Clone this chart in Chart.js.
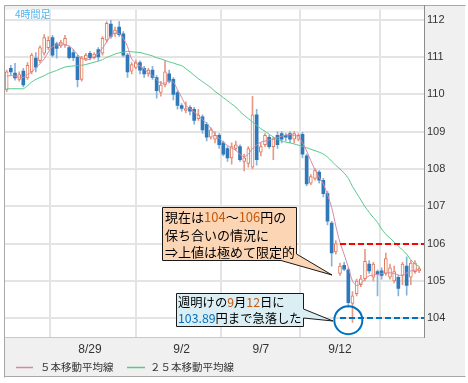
<!DOCTYPE html>
<html><head><meta charset="utf-8">
<script src="https://cdn.jsdelivr.net/npm/chart.js@4/dist/chart.umd.min.js"></script>
<style>html,body{margin:0;padding:0;background:#fff;}canvas{display:block;}</style>
</head><body>
<canvas id="c" width="468" height="383"></canvas>
<script>
// ---- data (4-hour candles) ----
const tickPositions = [1, 20, 42, 61, 80];
const tickLabels = ['', '8/29', '9/2', '9/7', '9/12'];
const yTickValues = [104, 105, 106, 107, 108, 109, 110, 111, 112];
const seriesNames = ['５本移動平均線', '２５本移動平均線'];

const openP = [110.12,110.70,110.57,110.40,110.62,110.44,110.60,110.97,110.90,111.10,
111.25,111.52,111.35,111.30,111.32,111.25,111.12,111.00,110.40,110.95,
111.10,110.98,111.20,111.10,111.45,111.88,111.62,111.80,111.62,111.05,
110.62,110.72,110.85,110.70,110.55,110.65,110.45,110.05,110.25,110.55,
110.40,110.05,109.70,109.57,109.65,109.60,109.35,109.40,109.20,108.85,
108.80,108.90,108.70,108.55,108.30,108.55,108.60,108.20,108.15,108.05,
109.45,108.45,108.65,108.85,108.60,108.90,108.95,108.90,108.95,108.80,
108.80,108.93,108.35,107.62,107.75,107.92,107.70,107.34,106.55,105.78,
105.20,105.42,105.30,104.40,104.66,104.90,105.06,105.45,105.10,105.25,
105.27,105.20,105.10,105.00,105.10,105.15,105.40,105.10,105.25,105.27];
const highP = [110.65,110.78,110.83,110.60,110.70,110.85,111.10,111.12,111.30,111.60,
111.55,111.58,111.40,111.45,111.58,111.30,111.20,111.05,111.02,111.10,
111.15,111.12,111.25,111.55,111.95,111.98,111.80,111.95,111.68,111.10,
110.85,110.92,110.90,110.75,110.70,110.75,110.50,110.35,110.90,110.65,
110.45,110.10,109.75,109.80,109.70,109.65,109.60,109.45,109.25,109.10,
109.00,108.95,108.75,108.60,108.70,108.75,108.65,108.40,108.60,109.95,
109.60,108.70,108.95,108.90,108.85,109.00,109.00,108.95,109.00,109.00,
108.95,108.98,108.40,107.85,108.02,107.96,107.75,107.40,106.60,106.08,
105.48,105.50,105.35,104.72,105.05,105.15,105.85,105.55,105.50,105.30,
105.35,105.75,105.45,105.40,105.15,105.50,105.65,105.55,105.55,105.38];
const lowP = [110.07,110.52,110.38,110.35,110.20,110.40,110.55,110.60,110.85,111.05,
111.20,111.00,110.97,111.25,111.26,110.95,110.90,110.20,110.35,110.90,
110.92,110.95,110.90,111.05,111.40,111.50,111.55,111.55,111.00,110.45,
110.55,110.68,110.55,110.45,110.48,110.40,109.90,109.95,110.20,110.30,
109.85,109.60,109.55,109.50,109.45,109.20,109.30,108.95,108.75,108.80,
108.70,108.55,108.35,108.20,108.13,108.50,108.20,107.95,108.05,108.00,
108.10,108.35,108.60,108.55,108.25,108.55,108.70,108.75,108.70,108.70,
108.75,108.30,107.55,107.58,107.70,107.62,107.25,106.50,105.40,105.72,
105.15,105.28,104.30,103.89,104.60,104.85,105.00,105.20,105.00,104.60,
105.05,105.15,105.05,104.95,104.60,104.90,104.62,104.90,105.20,105.22];
const closeP = [110.60,110.60,110.44,110.53,110.25,110.78,111.05,110.73,111.25,111.52,
111.45,111.05,111.23,111.40,111.50,110.98,110.98,110.39,110.97,111.05,
110.98,111.08,111.00,111.50,111.90,111.55,111.72,111.60,111.05,110.60,
110.80,110.85,110.65,110.55,110.65,110.45,110.10,110.25,110.60,110.35,
110.00,109.70,109.62,109.62,109.55,109.30,109.45,109.05,108.85,109.05,
108.90,108.65,108.40,108.30,108.60,108.65,108.25,108.30,108.55,109.45,
108.25,108.60,108.90,108.60,108.80,108.65,108.80,108.85,108.80,108.95,
108.90,108.40,107.60,107.80,107.97,107.70,107.34,106.60,105.75,106.00,
105.40,105.32,104.42,104.60,105.00,105.06,105.53,105.27,105.45,105.18,
105.15,105.60,105.35,105.25,104.80,105.45,104.88,105.48,105.48,105.33];
const ma5 = [110.49,110.50,110.49,110.46,110.45,110.53,110.60,110.71,110.82,110.95,
111.13,111.28,111.32,111.35,111.33,111.29,111.20,111.07,110.97,110.92,
110.95,111.01,111.09,111.24,111.40,111.57,111.64,111.63,111.50,111.28,
110.95,110.83,110.76,110.68,110.58,110.50,110.40,110.30,110.30,110.36,
110.33,110.12,109.92,109.70,109.62,109.53,109.43,109.33,109.22,109.09,
108.93,108.82,108.71,108.63,108.56,108.50,108.39,108.33,108.40,108.55,
108.64,108.72,108.75,108.78,108.81,108.84,108.88,108.91,108.92,108.90,
108.87,108.70,108.48,108.22,107.98,107.78,107.60,107.31,106.97,106.47,
106.03,105.71,105.37,105.00,104.88,104.93,105.05,105.14,105.16,105.18,
105.20,105.21,105.22,105.20,105.16,105.15,105.21,105.27,105.29,105.31];
const ma25 = [110.15,110.15,110.15,110.15,110.15,110.23,110.33,110.40,110.45,110.50,
110.56,110.60,110.64,110.69,110.73,110.75,110.76,110.77,110.78,110.80,
110.83,110.86,110.89,110.93,110.99,111.03,111.08,111.11,111.13,111.15,
111.14,111.13,111.12,111.09,111.06,111.03,110.98,110.95,110.91,110.87,
110.84,110.80,110.77,110.69,110.60,110.51,110.42,110.34,110.26,110.18,
110.08,110.00,109.91,109.83,109.74,109.66,109.54,109.44,109.35,109.26,
109.17,109.08,109.01,108.93,108.86,108.79,108.75,108.72,108.70,108.67,
108.64,108.60,108.57,108.53,108.49,108.45,108.40,108.32,108.21,108.10,
108.00,107.89,107.75,107.53,107.35,107.17,106.99,106.84,106.70,106.57,
106.39,106.25,106.15,106.04,105.94,105.83,105.72,105.57,105.46,105.39];

const resistanceLevel = 106;
const supportLevel = 104;
const lowIndex = 82;

// ---- styles ----
const BLUE = '#2f78b9', BLUE_WICK = '#86b3da', RED = '#e2785c', RED_WICK = '#e99a84';
const PINK = '#d48aa6', GREEN = '#55c98b';
const CJK = '"Noto Sans CJK JP", "Noto Sans", sans-serif';

const idx = openP.map((_, i) => i);
const isUp = i => closeP[i] >= openP[i];

const bgPlugin = {
  id: 'bg',
  beforeDraw(chart) {
    const { ctx, chartArea: a } = chart;
    ctx.save();
    ctx.fillStyle = '#ffffff'; ctx.fillRect(0, 0, chart.width, chart.height);
    ctx.fillStyle = '#f0f0f0'; ctx.fillRect(4, 5, 461, 372);
    ctx.fillStyle = '#ffffff'; ctx.fillRect(a.left, a.top, a.right - a.left, a.bottom - a.top);
    ctx.restore();
  }
};

function drawRuns(ctx, x, y, parts) {
  let cx = x;
  for (const [t, c] of parts) { ctx.fillStyle = c; ctx.fillText(t, cx, y); cx += ctx.measureText(t).width; }
}

const annotPlugin = {
  id: 'annot',
  afterDatasetsDraw(chart) {
    const { ctx, chartArea: a, scales } = chart;
    const xs = scales.x, ys = scales.y;
    ctx.save();
    // level lines
    const x0 = xs.getPixelForValue(tickPositions[4]);
    ctx.lineWidth = 2; ctx.setLineDash([6, 3]);
    ctx.strokeStyle = '#ff0000';
    let yy = Math.round(ys.getPixelForValue(resistanceLevel));
    ctx.beginPath(); ctx.moveTo(x0, yy); ctx.lineTo(a.right, yy); ctx.stroke();
    ctx.strokeStyle = '#0070c0';
    yy = Math.round(ys.getPixelForValue(supportLevel));
    ctx.beginPath(); ctx.moveTo(x0, yy); ctx.lineTo(a.right, yy); ctx.stroke();
    ctx.setLineDash([]);
    // circle around the low
    ctx.strokeStyle = '#0070c0'; ctx.lineWidth = 2;
    ctx.beginPath();
    ctx.arc(xs.getPixelForValue(lowIndex), ys.getPixelForValue(103.95), 14, 0, Math.PI * 2);
    ctx.stroke();

    ctx.lineWidth = 1; ctx.strokeStyle = '#1a1a1a';
    // callout 1
    ctx.beginPath();
    ctx.moveTo(162.5, 207.5); ctx.lineTo(296.5, 207.5); ctx.lineTo(296.5, 254);
    ctx.lineTo(332, 275); ctx.lineTo(281, 260.5); ctx.lineTo(162.5, 260.5); ctx.closePath();
    ctx.fillStyle = '#fcd5b4'; ctx.fill(); ctx.stroke();
    // callout 2
    ctx.beginPath();
    ctx.moveTo(176.5, 293.5); ctx.lineTo(303.5, 293.5); ctx.lineTo(303.5, 309);
    ctx.lineTo(333, 321); ctx.lineTo(303.5, 318); ctx.lineTo(303.5, 326.5);
    ctx.lineTo(176.5, 326.5); ctx.closePath();
    ctx.fillStyle = '#daeef3'; ctx.fill(); ctx.stroke();

    ctx.textBaseline = 'middle'; ctx.textAlign = 'left';
    const NUM1 = '#c55a11', NUM2 = '#c55a11', NUM3 = '#0070c0', K = '#000000';
    ctx.font = '13px ' + CJK;
    drawRuns(ctx, 165, 217, [['現在は', K], ['104', NUM1], ['～', K], ['106', NUM1], ['円の', K]]);
    drawRuns(ctx, 165, 235, [['保ち合いの情況に', K]]);
    drawRuns(ctx, 165, 252, [['⇒上値は極めて限定的', K]]);
    ctx.font = '12.3px ' + CJK;
    drawRuns(ctx, 178, 302, [['週明けの', K], ['9', NUM2], ['月', K], ['12', NUM2], ['日に', K]]);
    drawRuns(ctx, 178, 318, [['103.89', NUM3], ['円まで急落した', K]]);

    // timeframe label
    ctx.font = '10px ' + CJK; ctx.fillStyle = '#4fb4ef';
    ctx.fillText('4時間足', 15, 14);
    ctx.restore();
  },
  afterDraw(chart) {
    const { ctx, chartArea: a } = chart;
    ctx.save();
    // frame lines
    ctx.strokeStyle = '#a8a8a8'; ctx.lineWidth = 1;
    ctx.beginPath();
    ctx.moveTo(4.5, 377.5); ctx.lineTo(4.5, 5.5); ctx.lineTo(465.5, 5.5);
    ctx.moveTo(4.5, 376.5); ctx.lineTo(465.5, 376.5);
    ctx.stroke();
    ctx.strokeStyle = '#c8c8c8';
    ctx.beginPath(); ctx.moveTo(a.left, a.bottom + 0.5); ctx.lineTo(a.right, a.bottom + 0.5); ctx.stroke();
    ctx.strokeStyle = '#8c8c8c';
    ctx.beginPath(); ctx.moveTo(a.right + 0.5, 5); ctx.lineTo(a.right + 0.5, a.bottom + 1); ctx.stroke();
    // legend
    const items = [[16, 33, 40, PINK, seriesNames[0]], [127, 145, 150, GREEN, seriesNames[1]]];
    ctx.font = '10.5px ' + CJK; ctx.textBaseline = 'middle'; ctx.textAlign = 'left';
    for (const [l0, l1, tx, col, name] of items) {
      ctx.strokeStyle = col; ctx.lineWidth = 1.5;
      ctx.beginPath(); ctx.moveTo(l0, 367.5); ctx.lineTo(l1, 367.5); ctx.stroke();
      ctx.fillStyle = '#333333'; ctx.fillText(name, tx, 367);
    }
    ctx.restore();
  }
};

new Chart(document.getElementById('c'), {
  data: {
    datasets: [
      { type: 'line', label: seriesNames[0], data: idx.map(i => ({ x: i, y: ma5[i] })),
        borderColor: PINK, borderWidth: 1, pointRadius: 0, tension: 0.3, order: 0 },
      { type: 'line', label: seriesNames[1], data: idx.map(i => ({ x: i, y: ma25[i] })),
        borderColor: GREEN, borderWidth: 1, pointRadius: 0, tension: 0.3, order: 0 },
      { type: 'bar', label: 'body', data: idx.map(i => ({ x: i, y: [openP[i], closeP[i]] })),
        backgroundColor: c => isUp(c.dataIndex) ? '#ffffff' : BLUE,
        borderColor: c => isUp(c.dataIndex) ? RED : BLUE,
        borderWidth: c => isUp(c.dataIndex) ? 1 : 0,
        borderSkipped: false, barThickness: 3, grouped: false, order: 1 },
      { type: 'bar', label: 'wick', data: idx.map(i => ({ x: i, y: [lowP[i], highP[i]] })),
        backgroundColor: c => isUp(c.dataIndex) ? RED_WICK : BLUE_WICK,
        borderWidth: 0, barThickness: 1, grouped: false, order: 2 }
    ]
  },
  options: {
    responsive: false, animation: false,
    layout: { padding: { left: 5, top: 6, right: 2, bottom: 0 } },
    plugins: { legend: { display: false }, tooltip: { enabled: false } },
    scales: {
      x: {
        type: 'linear', min: -0.4, max: 100.16, offset: false,
        afterBuildTicks: s => { s.ticks = tickPositions.map(v => ({ value: v })); },
        afterFit: s => { s.height = 46; },
        ticks: { autoSkip: false, maxRotation: 0, padding: 5, color: '#333333',
          font: { family: '"Liberation Sans", Arial, sans-serif', size: 12 },
          callback: (v, i) => tickLabels[i] },
        grid: { color: '#e4e4e4', lineWidth: 2, drawTicks: false },
        border: { display: false }
      },
      y: {
        position: 'right', min: 103.5, max: 112.27,
        afterBuildTicks: s => { s.ticks = yTickValues.map(v => ({ value: v })); },
        afterFit: s => { s.width = 42; },
        ticks: { padding: 3, color: '#333333',
          font: { family: '"Liberation Sans", Arial, sans-serif', size: 11 },
          callback: v => String(v) },
        grid: { color: '#e4e4e4', lineWidth: 2, drawTicks: false },
        border: { display: false }
      }
    }
  },
  plugins: [bgPlugin, annotPlugin]
});
</script>
</body></html>
